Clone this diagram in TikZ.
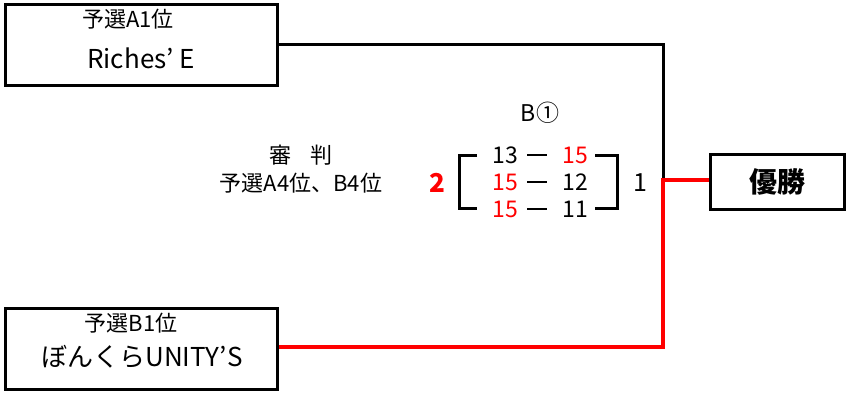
\documentclass[tikz,border=0pt]{standalone}
\usepackage{fontspec}
\setmainfont{Noto Sans CJK JP}
\begin{document}
\begin{tikzpicture}[x=1pt,y=-1pt,
  teambox/.style={draw,line width=3pt,minimum width=272pt,minimum height=81pt,inner sep=0pt},
  winbox/.style={draw,line width=3pt,minimum width=134pt,minimum height=55pt,inner sep=0pt,font=\fontsize{28}{30}\selectfont\bfseries},
  small/.style={font=\fontsize{22}{24}\selectfont,inner sep=0pt},
  big/.style={font=\fontsize{26}{28}\selectfont,inner sep=0pt},
  score/.style={font=\fontsize{23}{26}\selectfont,inner sep=0pt},
  win/.style={text=red},
  blk/.style={line width=3pt},
  dashline/.style={line width=2pt,shorten <=22pt,shorten >=28pt},
  rline/.style={line width=4pt,red}]
\useasboundingbox (0,0) rectangle (846,392);
\node[teambox] (A) at (141,45) {};
\node[small] (At) at (128,19) {予選A1位};
\node[big] (An) at (141,58) {Riches’ E};
\node[teambox] (B) at (141,349) {};
\node[small] (Bt) at (131,323) {予選B1位};
\node[big] (Bn) at (142,357) {ぼんくらUNITY’S};
\node[winbox] (W) at (777.5,181.5) {優勝};
\coordinate (J) at (663,44.5);
\coordinate (K) at (663,180);
\coordinate (L) at (663,347);
\draw[blk] (A.east |- J) -- (J) -- (K);
\draw[rline] (B.east |- L) -- (L) -- (K) -- (K -| W.west);
\node[score,font=\fontsize{22}{24}\selectfont] (ref1) at (301,155) {審\hspace{0.9em}判};
\node[score,font=\fontsize{22}{24}\selectfont] (ref2) at (301,183) {予選A4位、B4位};
\node[score] (title) at (540,113) {B①};
\node[score,win,font=\fontsize{26}{28}\selectfont\bfseries] (l2) at (437,183) {2};
\node[score,font=\fontsize{25}{28}\selectfont] (r1) at (640,183) {1};
\node[score] (s1a) at (505,155) {13};
\node[score,win] (s1b) at (575,155) {15};
\node[score,win] (s2a) at (505,182) {15};
\node[score] (s2b) at (575,182) {12};
\node[score,win] (s3a) at (505,209) {15};
\node[score] (s3b) at (575,209) {11};
\draw[dashline] (s1a.center) -- (s1b.center);
\draw[dashline] (s2a.center) -- (s2b.center);
\draw[dashline] (s3a.center) -- (s3b.center);
\coordinate (bl1) at (477,155);
\coordinate (bl2) at (477,208);
\coordinate (br1) at (595,155);
\coordinate (br2) at (595,208);
\draw[blk] (bl1) -- (459,155) -- (459,208) -- (bl2);
\draw[blk] (br1) -- (617,155) -- (617,208) -- (br2);
\end{tikzpicture}
\end{document}
